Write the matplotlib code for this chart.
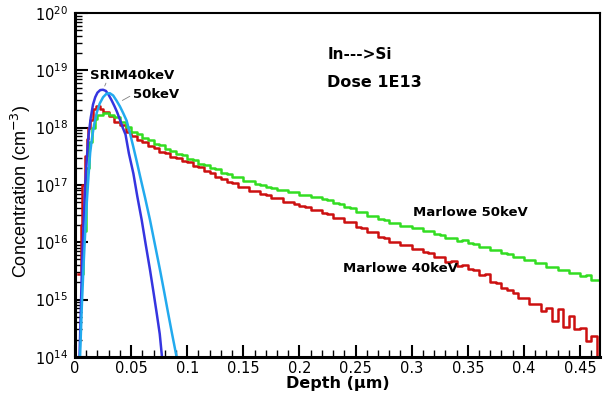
import numpy as np
import matplotlib
matplotlib.use('Agg')
import matplotlib.pyplot as plt
from matplotlib.ticker import LogLocator, MultipleLocator, FuncFormatter

plt.rcParams['font.family'] = ['DejaVu Sans']
plt.rcParams['mathtext.fontset'] = 'dejavusans'

# SRIM 40 keV (log10 of concentration)
srim40_x = [0.0040, 0.0050, 0.0060, 0.0075, 0.0090, 0.0105, 0.0120, 0.0140, 0.0160, 0.0180,
            0.0200, 0.0225, 0.0250, 0.0275, 0.0300, 0.0325, 0.0350, 0.0375, 0.0400, 0.0425,
            0.0450, 0.0480, 0.0520, 0.0555, 0.0594, 0.0630, 0.0668, 0.0700, 0.0728, 0.0755,
            0.0775]
srim40_log = [14.0, 14.7, 15.45, 16.25, 16.95, 17.45, 17.85, 18.17, 18.40, 18.53,
              18.61, 18.655, 18.66, 18.64, 18.57, 18.48, 18.38, 18.27, 18.14, 18.00,
              17.88, 17.55, 17.20, 16.80, 16.39, 15.96, 15.52, 15.12, 14.76, 14.40,
              14.0]

# SRIM 50 keV
srim50_x = [0.0045, 0.0060, 0.0075, 0.0090, 0.0105, 0.0120, 0.0135, 0.0150, 0.0170, 0.0195,
            0.0220, 0.0250, 0.0280, 0.0310, 0.0340, 0.0370, 0.0400, 0.0430, 0.0460, 0.0490,
            0.0520, 0.0550, 0.0580, 0.0625, 0.0668, 0.0710, 0.0757, 0.0795, 0.0830, 0.0865,
            0.0905]
srim50_log = [14.0, 14.85, 15.55, 16.15, 16.70, 17.15, 17.56, 17.80, 18.05, 18.27,
              18.42, 18.53, 18.59, 18.60, 18.56, 18.47, 18.37, 18.25, 18.12, 17.90,
              17.66, 17.41, 17.15, 16.77, 16.39, 15.98, 15.52, 15.13, 14.76, 14.40,
              14.0]

# Marlowe 40 keV
m40_x = [0.0030, 0.0050, 0.0065, 0.0090, 0.0105, 0.0120, 0.0135, 0.0160, 0.0190, 0.0220, 0.0250,
         0.030, 0.035, 0.040, 0.045, 0.050, 0.055, 0.060, 0.065, 0.070, 0.075,
         0.080, 0.085, 0.090, 0.095, 0.100, 0.105, 0.110, 0.115, 0.120, 0.125,
         0.130, 0.135, 0.140, 0.145, 0.150, 0.155, 0.160, 0.165, 0.170, 0.175,
         0.180, 0.185, 0.190, 0.195, 0.200, 0.205, 0.210, 0.215, 0.220, 0.225,
         0.230, 0.235, 0.240, 0.245, 0.250, 0.255, 0.260, 0.265, 0.270, 0.275,
         0.280, 0.285, 0.290, 0.295, 0.300, 0.305, 0.310, 0.315, 0.320, 0.325,
         0.330, 0.335, 0.340, 0.345, 0.350, 0.355, 0.360, 0.365, 0.370, 0.375,
         0.380, 0.385, 0.390, 0.395, 0.400, 0.405, 0.410, 0.415, 0.420, 0.425,
         0.430, 0.435, 0.440, 0.445, 0.450, 0.455, 0.460, 0.465]
m40_log = [15.45, 16.30, 17.00, 17.50, 17.80, 18.00, 18.14, 18.33, 18.37, 18.33, 18.28,
           18.20, 18.10, 18.04, 17.92, 17.86, 17.78, 17.75, 17.68, 17.65, 17.58,
           17.56, 17.49, 17.47, 17.42, 17.40, 17.33, 17.31, 17.24, 17.21, 17.14,
           17.11, 17.05, 17.03, 16.97, 16.96, 16.90, 16.89, 16.84, 16.83, 16.77,
           16.77, 16.71, 16.71, 16.66, 16.64, 16.62, 16.57, 16.56, 16.51, 16.50,
           16.43, 16.43, 16.35, 16.35, 16.26, 16.25, 16.18, 16.17, 16.09, 16.08,
           16.01, 16.01, 15.95, 15.96, 15.89, 15.89, 15.83, 15.81, 15.74, 15.75,
           15.66, 15.67, 15.58, 15.60, 15.53, 15.52, 15.42, 15.45, 15.30, 15.28,
           15.20, 15.16, 15.12, 15.03, 15.02, 14.93, 14.92, 14.80, 14.86, 14.62,
           14.84, 14.52, 14.72, 14.48, 14.50, 14.28, 14.36, 14.0]

# Marlowe 50 keV
m50_x = [0.0065, 0.0075, 0.0100, 0.0125, 0.0150, 0.0175, 0.0200, 0.0250,
         0.030, 0.035, 0.040, 0.045, 0.050, 0.055, 0.060, 0.065, 0.070, 0.075,
         0.080, 0.085, 0.090, 0.095, 0.100, 0.105, 0.110, 0.115, 0.120, 0.125,
         0.130, 0.135, 0.140, 0.145, 0.150, 0.155, 0.160, 0.165, 0.170, 0.175,
         0.180, 0.185, 0.190, 0.195, 0.200, 0.205, 0.210, 0.215, 0.220, 0.225,
         0.230, 0.235, 0.240, 0.245, 0.250, 0.255, 0.260, 0.265, 0.270, 0.275,
         0.280, 0.285, 0.290, 0.295, 0.300, 0.305, 0.310, 0.315, 0.320, 0.325,
         0.330, 0.335, 0.340, 0.345, 0.350, 0.355, 0.360, 0.365, 0.370, 0.375,
         0.380, 0.385, 0.390, 0.395, 0.400, 0.405, 0.410, 0.415, 0.420, 0.425,
         0.430, 0.435, 0.440, 0.445, 0.450, 0.455, 0.460, 0.465, 0.468]
m50_log = [15.45, 16.20, 17.30, 17.75, 18.00, 18.15, 18.22, 18.26,
           18.22, 18.18, 18.10, 18.01, 17.92, 17.88, 17.82, 17.78, 17.72, 17.69,
           17.62, 17.59, 17.54, 17.52, 17.46, 17.44, 17.37, 17.35, 17.29, 17.28,
           17.21, 17.19, 17.13, 17.13, 17.07, 17.07, 17.01, 17.00, 16.96, 16.95,
           16.91, 16.91, 16.87, 16.87, 16.83, 16.83, 16.79, 16.79, 16.75, 16.74,
           16.69, 16.67, 16.61, 16.60, 16.53, 16.52, 16.46, 16.45, 16.40, 16.39,
           16.34, 16.34, 16.29, 16.29, 16.25, 16.25, 16.20, 16.19, 16.14, 16.13,
           16.08, 16.07, 16.02, 16.03, 15.98, 15.97, 15.92, 15.92, 15.86, 15.87,
           15.81, 15.80, 15.75, 15.75, 15.69, 15.69, 15.63, 15.63, 15.57, 15.57,
           15.51, 15.51, 15.46, 15.46, 15.41, 15.42, 15.34, 15.34, 15.32]

fig = plt.figure(figsize=(6.05, 3.93), dpi=100)
ax = fig.add_axes([0.124, 0.092, 0.868, 0.875])

ax.plot(m40_x, 10 ** np.array(m40_log), color='#cc1010', lw=1.8, drawstyle='steps-post')
ax.plot(m50_x, 10 ** np.array(m50_log), color='#33dd22', lw=1.8, drawstyle='steps-post')
ax.plot(srim40_x, 10 ** np.array(srim40_log), color='#3535e0', lw=1.8)
ax.plot(srim50_x, 10 ** np.array(srim50_log), color='#22aaee', lw=1.8)

ax.set_yscale('log')
ax.set_xlim(0, 0.468)
ax.set_ylim(1e14, 1e20)

ax.yaxis.set_major_locator(LogLocator(base=10, numticks=10))
ax.yaxis.set_minor_locator(LogLocator(base=10, subs=np.arange(2, 10), numticks=100))
ax.xaxis.set_major_locator(MultipleLocator(0.05))
ax.xaxis.set_minor_locator(MultipleLocator(0.01))
ax.xaxis.set_major_formatter(FuncFormatter(lambda v, p: '%g' % round(v, 3)))

ax.tick_params(which='both', direction='in', top=False, right=False, labelsize=10.5, width=1.5)
ax.tick_params(which='major', length=9)
ax.tick_params(which='minor', length=5, width=1)
ax.tick_params(axis='x', pad=3)
ax.tick_params(axis='y', pad=5, labelsize=10.5)
for s in ax.spines.values():
    s.set_linewidth(1.5)
ax.spines['left'].set_linewidth(2.2)
ax.spines['bottom'].set_linewidth(2.2)

ax.set_xlabel('Depth (μm)', fontsize=11.5, fontweight='bold', labelpad=0)
ax.set_ylabel('Concentration (cm$^{-3}$)', fontsize=13,
              family=['Liberation Sans', 'DejaVu Sans'])
ax.yaxis.set_label_coords(-0.08, 0.48)

ax.text(0.0135, 10 ** 18.85, 'SRIM40keV', fontsize=9.5, fontweight='bold')
ax.annotate('', xy=(0.0255, 10 ** 18.68), xytext=(0.0285, 10 ** 18.82),
            arrowprops=dict(arrowstyle='-', color='gray', lw=0.6))
ax.text(0.052, 10 ** 18.52, '50keV', fontsize=9.5, fontweight='bold')
ax.annotate('', xy=(0.040, 10 ** 18.45), xytext=(0.051, 10 ** 18.57),
            arrowprops=dict(arrowstyle='-', color='gray', lw=0.6))

ax.text(0.225, 10 ** 19.27, 'In--->Si', fontsize=11, fontweight='bold', va='center')
ax.text(0.225, 10 ** 18.78, 'Dose 1E13', fontsize=11.5, fontweight='bold', va='center')
ax.text(0.301, 10 ** 16.52, 'Marlowe 50keV', fontsize=9.5, fontweight='bold', va='center')
ax.text(0.239, 10 ** 15.55, 'Marlowe 40keV', fontsize=9.5, fontweight='bold', va='center')

fig.savefig('out.png', dpi=100)
